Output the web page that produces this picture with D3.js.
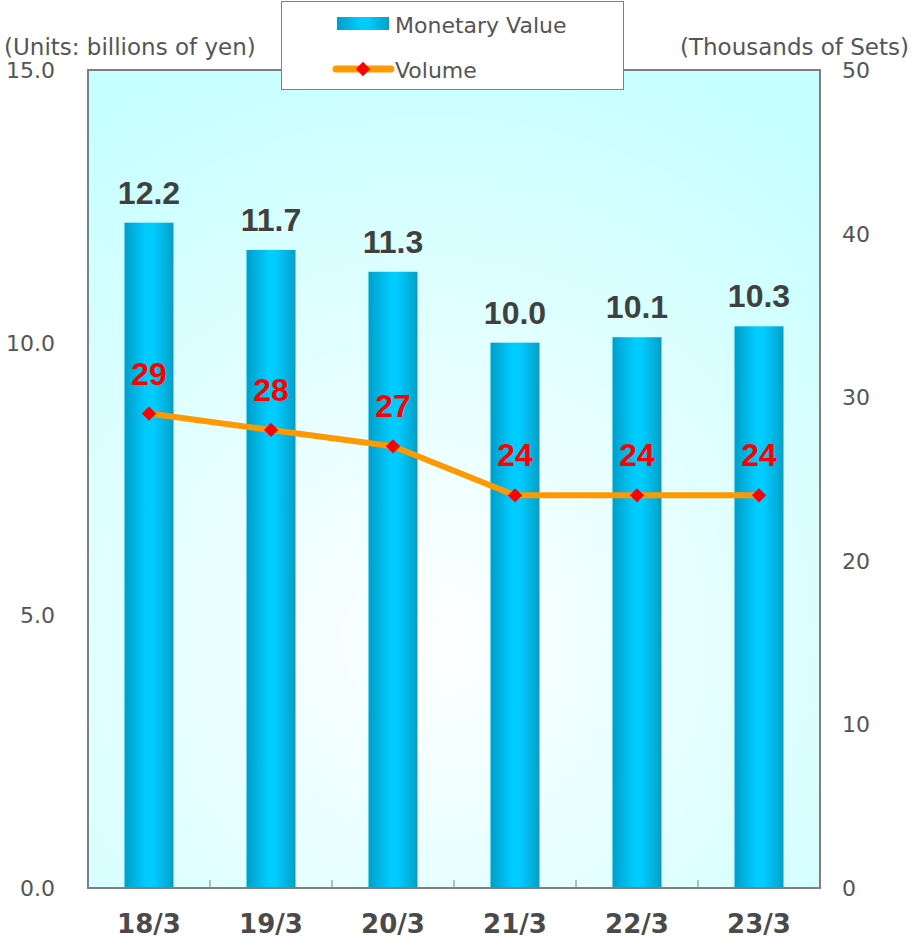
<!DOCTYPE html>
<html><head><meta charset="utf-8">
<script src="https://cdn.jsdelivr.net/npm/d3@7"></script>
<style>body{margin:0;background:#fff;}svg{display:block;}</style>
</head><body>
<script>
const categories = ["18/3","19/3","20/3","21/3","22/3","23/3"];
const monetaryValue = [12.2, 11.7, 11.3, 10.0, 10.1, 10.3];
const volume = [29, 28, 27, 24, 24, 24];
const leftTicks = [0, 5, 10, 15];
const rightTicks = [0, 10, 20, 30, 40, 50];

const W = 914, H = 945;
const m = {l: 88, r: 820, t: 70, b: 888};
const svg = d3.select("body").append("svg").attr("width", W).attr("height", H);
const defs = svg.append("defs");
const rg = defs.append("radialGradient").attr("id","bg")
  .attr("gradientUnits","userSpaceOnUse").attr("cx",430).attr("cy",640).attr("r",620);
rg.append("stop").attr("offset","0").attr("stop-color","#ffffff");
rg.append("stop").attr("offset","1").attr("stop-color","#c6ffff");
const bg = defs.append("linearGradient").attr("id","bar").attr("x1","0").attr("x2","1").attr("y1","0").attr("y2","0");
bg.append("stop").attr("offset","0").attr("stop-color","#009ec8");
bg.append("stop").attr("offset","0.45").attr("stop-color","#00ccff");
bg.append("stop").attr("offset","0.6").attr("stop-color","#00ccff");
bg.append("stop").attr("offset","1").attr("stop-color","#00a0c8");

const x = d3.scaleBand().domain(categories).range([m.l, m.r]);
const yL = d3.scaleLinear().domain([0, 15]).range([m.b, m.t]);
const yR = d3.scaleLinear().domain([0, 50]).range([m.b, m.t]);

svg.append("rect").attr("x", m.l).attr("y", m.t).attr("width", m.r-m.l).attr("height", m.b-m.t)
  .attr("fill","url(#bg)");

const bw = 49;
svg.selectAll("rect.bar").data(categories).enter().append("rect").attr("class","bar")
  .attr("x", (d)=> x(d)+x.bandwidth()/2-bw/2)
  .attr("y", (d,i)=> yL(monetaryValue[i]))
  .attr("width", bw)
  .attr("height", (d,i)=> yL(0)-yL(monetaryValue[i]))
  .attr("fill","url(#bar)");

// x ticks (inward)
const bounds = categories.slice(1).map(d=>x(d));
svg.selectAll("line.xt").data(bounds).enter().append("line")
  .attr("x1",d=>d).attr("x2",d=>d).attr("y1",m.b).attr("y2",m.b-8)
  .attr("stroke","#808080").attr("stroke-width",1);

// frame
svg.append("rect").attr("x", m.l).attr("y", m.t).attr("width", m.r-m.l).attr("height", m.b-m.t)
  .attr("fill","none").attr("stroke","#7f7f7f").attr("stroke-width",2);

const font = "'DejaVu Sans', sans-serif";
const boldFont = "'Liberation Sans', Arial, sans-serif";
// left tick labels
svg.selectAll("text.yl").data(leftTicks).enter().append("text")
  .attr("x", 55).attr("y", d=>yL(d)+8).attr("text-anchor","end")
  .attr("font-family",font).attr("font-size",22).attr("fill","#555")
  .text(d=>d.toFixed(1));
svg.selectAll("text.yr").data(rightTicks).enter().append("text")
  .attr("x", 842).attr("y", d=>yR(d)+8).attr("text-anchor","start")
  .attr("font-family",font).attr("font-size",22).attr("fill","#555")
  .text(d=>d);

svg.append("text").attr("x",4).attr("y",55).attr("font-family",font).attr("font-size",23).attr("fill","#555")
  .text("(Units: billions of yen)");
svg.append("text").attr("x",909).attr("y",55).attr("text-anchor","end").attr("font-family",font).attr("font-size",23).attr("fill","#555")
  .text("(Thousands of Sets)");

// x labels
svg.selectAll("text.xl").data(categories).enter().append("text")
  .attr("x", d=>x(d)+x.bandwidth()/2).attr("y", 933).attr("text-anchor","middle")
  .attr("font-family",font).attr("font-weight","bold").attr("font-size",26).attr("fill","#4a4a4a")
  .text(d=>d);

// bar labels
svg.selectAll("text.bl").data(categories).enter().append("text")
  .attr("x", d=>x(d)+x.bandwidth()/2).attr("y", (d,i)=>yL(monetaryValue[i])-19).attr("text-anchor","middle")
  .attr("font-family",boldFont).attr("font-weight","bold").attr("font-size",32).attr("fill","#404040")
  .text(d=>{const i=categories.indexOf(d);return monetaryValue[i].toFixed(1);});

// line
const line = d3.line().x((d,i)=>x(categories[i])+x.bandwidth()/2).y(d=>yR(d));
svg.append("path").datum(volume).attr("d", line).attr("fill","none")
  .attr("stroke","#ff9900").attr("stroke-width",6).attr("stroke-linejoin","round");
svg.selectAll("path.mk").data(volume).enter().append("path")
  .attr("d", d3.symbol().type(d3.symbolDiamond2).size(130))
  .attr("transform",(d,i)=>`translate(${x(categories[i])+x.bandwidth()/2},${yR(d)})`)
  .attr("fill","#ff0000");
svg.selectAll("text.vl").data(volume).enter().append("text")
  .attr("x",(d,i)=>x(categories[i])+x.bandwidth()/2).attr("y", d=>yR(d)-29).attr("text-anchor","middle")
  .attr("font-family",boldFont).attr("font-weight","bold").attr("font-size",32).attr("fill","#ff0000")
  .text(d=>d);

// legend
const lg = svg.append("g");
lg.append("rect").attr("x",281.5).attr("y",1.5).attr("width",342).attr("height",88)
  .attr("fill","#fff").attr("stroke","#7f7f7f").attr("stroke-width",1);
lg.append("rect").attr("x",337).attr("y",17).attr("width",52).attr("height",13).attr("fill","url(#bar)");
lg.append("text").attr("x",395).attr("y",33).attr("font-family",font).attr("font-size",22).attr("fill","#555").text("Monetary Value");
lg.append("line").attr("x1",336).attr("x2",391).attr("y1",69).attr("y2",69).attr("stroke","#ff9900").attr("stroke-width",7).attr("stroke-linecap","round");
lg.append("path").attr("d", d3.symbol().type(d3.symbolDiamond2).size(130)).attr("transform","translate(363,69)").attr("fill","#ff0000");
lg.append("text").attr("x",395).attr("y",78).attr("font-family",font).attr("font-size",22).attr("fill","#555").text("Volume");
</script>
</body></html>
